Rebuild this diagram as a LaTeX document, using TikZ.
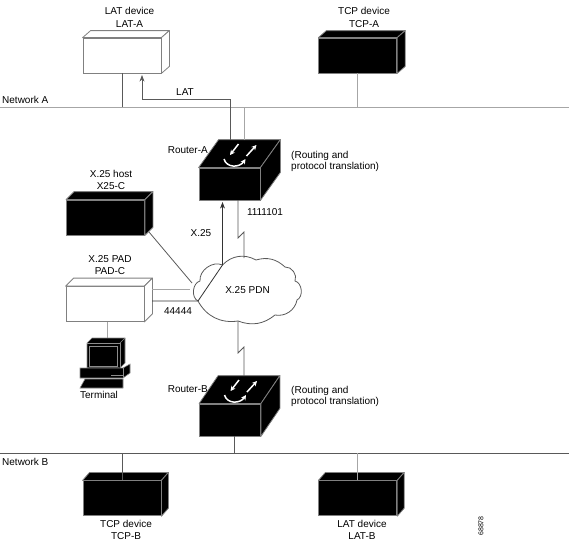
\documentclass[tikz,border=0pt]{standalone}
\usepackage{fontspec}
\setmainfont{Liberation Sans}
\usetikzlibrary{arrows.meta, positioning}

\tikzset{
    lbl/.style={font=\fontsize{10}{12.5}\selectfont, inner sep=0pt, align=center},
    note/.style={font=\fontsize{10}{11}\selectfont, inner sep=0pt, align=left},
    whitebox/.style={draw=gray, line width=0.8pt, fill=white, inner sep=0pt, minimum width=78pt, minimum height=35pt},
    blackbox/.style={whitebox, fill=black},
    routerbox/.style={blackbox, minimum width=61pt, minimum height=32pt},
    faces/.style={draw=gray, line width=0.8pt, line join=round},
    darkline/.style={draw=black!65, line width=0.8pt},
    paleline/.style={draw=black!35, line width=1pt},
    iconarrow/.style={draw=white, line width=1.5pt, -{Stealth[length=5pt,width=5pt]}},
    iconline/.style={draw=black!45, line width=0.6pt, fill=black}
}

% top and side of a box: node, depth x, depth y, fill
\newcommand{\boxfaces}[4]{
    \draw[faces, fill=#4] (#1.north west) -- ([shift={(#2,-#3)}]#1.north west) -- ([shift={(#2,-#3)}]#1.north east) -- (#1.north east) -- cycle;
    \draw[faces, fill=#4] (#1.north east) -- ([shift={(#2,-#3)}]#1.north east) -- ([shift={(#2,-#3)}]#1.south east) -- (#1.south east) -- cycle;
}
% arrows on top of a router
\newcommand{\routericon}[1]{
    \begin{scope}[shift={(#1.center)}]
        \draw[iconarrow] (9,-40) -- (0.5,-29);
        \draw[iconarrow] (17,-28) -- (27,-39);
        \draw[iconarrow] (-5.5,-25) .. controls (-3,-16) and (10,-16) .. (16,-25);
    \end{scope}
}

\begin{document}
\begin{tikzpicture}[x=1pt, y=-1pt, >=Stealth]
\useasboundingbox (0,0) rectangle (576,549);

% ---------------- DEVICES ----------------
\node[whitebox]  (LATA)                     at (122,55.5)  {};
\node[blackbox]  (TCPA) [right=157pt of LATA]              {};
\node[blackbox]  (TCPB) [below=407pt of LATA]              {};
\node[blackbox]  (LATB) [right=157pt of TCPB]              {};
\node[blackbox]  (X25C)                     at (105.5,217.5) {};
\node[whitebox]  (PADC)                     at (105,304)   {};
\node[routerbox] (RTRA)                     at (229.5,184) {};
\node[routerbox] (RTRB)                     at (230,420)   {};

\boxfaces{LATA}{8}{7}{white}
\boxfaces{TCPA}{8}{7}{black}
\boxfaces{TCPB}{7}{8}{black}
\boxfaces{LATB}{7}{8}{black}
\boxfaces{X25C}{8}{8}{black}
\boxfaces{PADC}{8}{8}{white}
\boxfaces{RTRA}{20}{28}{black}
\boxfaces{RTRB}{19}{28}{black}
\routericon{RTRA}
\routericon{RTRB}

% ---------------- NETWORKS ----------------
\coordinate (NETAW) at (0,107);
\coordinate (NETAE) at (569,107);
\coordinate (NETBW) at (0,453);
\coordinate (NETBE) at (569,453);
\draw[paleline] (NETAW) -- (NETAE);
\draw[darkline] (NETBW) -- (NETBE);

\draw[darkline] (LATA.south) -- (LATA.south |- NETAW);
\draw[paleline] (TCPA.south) -- (TCPA.south |- NETAW);
\draw[darkline] (TCPB.north) -- (TCPB.north |- NETBW);
\draw[paleline] (LATB.north) -- (LATB.north |- NETBW);
\draw[darkline] (234,436) -- (234,453);

% ---------------- CLOUD ----------------
\coordinate (CLDN)  at (222.5,265);
\coordinate (CLDW)  at (198,301);
\coordinate (CLDT)  at (244,258);
\coordinate (CLDB)  at (238,321);
\draw[darkline, fill=white] (CLDN) to[bend left=38] (256,260) to[bend left=30] (285,267)
    to[bend left=60] (295,281) to[bend left=70] (297,300) to[bend left=45] (275,315)
    to[bend left=30] (CLDB) to[bend left=35] (CLDW) to[bend left=70] (200,281)
    to[bend left=60] cycle;
\node[lbl] (PDN) at (247.5,290) {X.25 PDN};

% Router-A links
\coordinate (LATBEND) at (142,99);
\draw[darkline, ->] (230,140) -- (230,99) -- (LATBEND) -- (142,75);
\draw[paleline] (244,140) -- (244,107);
\coordinate (ZIGAL) at (238,238);
\coordinate (ZIGAR) at (244,232);
\draw[darkline] (238,200) -- (ZIGAL) -- (ZIGAR) -- (CLDT);
\coordinate (ZIGBL) at (238,353);
\coordinate (ZIGBR) at (244,347);
\draw[darkline] (CLDB) -- (ZIGBL) -- (ZIGBR) -- (244,376);

% X.25 links
\coordinate (PADE)  at (152,301);
\coordinate (PADG)  at (152,289);
\draw[darkline, draw=black!80, ->] (PADE) -- (CLDW) -- (CLDN) -- (222.5,202);
\draw[paleline] (PADG) -- (190,289);
\draw[darkline] (149,232) -- (192,283);

% ---------------- TERMINAL ----------------
\coordinate (TERM) at (107,339);
\draw[paleline] (PADC.south -| TERM) -- (TERM);
\draw[iconline] (87,343) -- (92,338) -- (125,338) -- (125,363) -- (120,368) -- (87,368) -- cycle;
\draw[iconline] (87,343) -- (120,343) -- (120,368);
\draw[iconline] (120,343) -- (125,338);
\draw[iconline] (89.5,346.5) rectangle (117.5,366);
\draw[iconline] (80,368) -- (123,368) -- (130,364) -- (130,373) -- (123,378) -- (80,378) -- cycle;
\draw[iconline] (123,368) -- (123,378);
\draw[iconline] (111,375) -- (123,375);
\draw[iconline] (85,379) -- (123,379) -- (123,388) -- (80,388) -- cycle;

% ---------------- LABELS ----------------
\node[lbl]               (LATAT) at (129.5,17.5)  {LAT device\\LAT-A};
\node[lbl]               (TCPAT) at (364,17.5)    {TCP device\\TCP-A};
\node[lbl, anchor=west]  (NETAT) at (2,99.5)      {Network A};
\node[lbl, anchor=west]  (NETBT) at (2,462)       {Network B};
\node[lbl]               (LATL)  at (185,92)      {LAT};
\node[lbl, anchor=east]  (RTRAT) at (208,150)     {Router-A};
\node[lbl, anchor=east]  (RTRBT) at (208,389)     {Router-B};
\node[note, anchor=west] (RTRAN) at (291,161.5)   {(Routing and\\protocol translation)};
\node[note, anchor=west] (RTRBN) at (291,396.5)   {(Routing and\\protocol translation)};
\node[lbl]               (X25CT) at (111,180)     {X.25 host\\X25-C};
\node[lbl]               (PADCT) at (110,265)     {X.25 PAD\\PAD-C};
\node[lbl]               (NUMA)  at (265,212)     {1111101};
\node[lbl]               (X25L)  at (201,233)     {X.25};
\node[lbl]               (NUMP)  at (178,311)     {44444};
\node[lbl]               (TERMT) at (99,395)      {Terminal};
\node[lbl]               (TCPBT) at (126,530)     {TCP device\\TCP-B};
\node[lbl]               (LATBT) at (362,530)     {LAT device\\LAT-B};
\node[lbl, font=\fontsize{7}{8}\selectfont, rotate=90] (FIGNO) at (481,526) {68878};

\end{tikzpicture}
\end{document}
